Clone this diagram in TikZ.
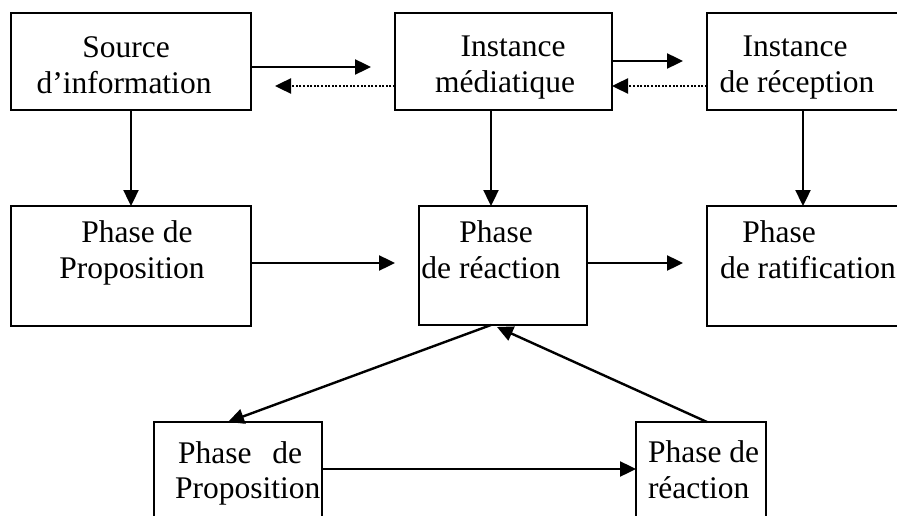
\documentclass[tikz,border=0pt]{standalone}
\usepackage{fontspec}
\setmainfont{Liberation Serif}
\usetikzlibrary{arrows.meta}
\begin{document}
\begin{tikzpicture}[x=1pt,y=-1pt,
  box/.style={draw=black,line width=2.2pt,rectangle,inner sep=0pt,outer sep=0pt},
  lbl/.style={inner sep=0pt,outer sep=0pt,font=\fontsize{31.5}{36}\selectfont},
  arr/.style={line width=2.4pt,-{Triangle[length=16pt,width=15pt]}},
  dotarr/.style={line width=2.4pt,dash pattern=on 2pt off 1.6pt,-{Triangle[length=16pt,width=15pt]}}]
\useasboundingbox (0,0) rectangle (897,516);
\clip (0,0) rectangle (897,516);
% boxes
\node[box,minimum width=240pt,minimum height=97pt] (src) at (131,61.5) {};
\node[box,minimum width=217pt,minimum height=97pt] (med) at (503.5,61.5) {};
\node[box,minimum width=253pt,minimum height=97pt] (rec) at (833.5,61.5) {};
\node[box,minimum width=240pt,minimum height=120pt] (prop) at (131,266) {};
\node[box,minimum width=168pt,minimum height=119pt] (rea) at (503,265.5) {};
\node[box,minimum width=253pt,minimum height=120pt] (rat) at (833.5,266) {};
\node[box,minimum width=168pt,minimum height=138pt] (bl) at (238,491) {};
\node[box,minimum width=130pt,minimum height=138pt] (br) at (701,491) {};
% texts
\node[lbl,anchor=base] (t1a) at (126,58) {Source};
\node[lbl,anchor=base] (t1b) at (124,94) {d’information};
\node[lbl,anchor=base] (t2a) at (513,57) {Instance};
\node[lbl,anchor=base] (t2b) at (505,93) {médiatique};
\node[lbl,anchor=base] (t3a) at (795,57) {Instance};
\node[lbl,anchor=base] (t3b) at (797,93) {de réception};
\node[lbl,anchor=base] (t4a) at (137,242) {Phase de};
\node[lbl,anchor=base] (t4b) at (132,278) {Proposition};
\node[lbl,anchor=base] (t5a) at (496,242) {Phase};
\node[lbl,anchor=base] (t5b) at (491,278) {de réaction};
\node[lbl,anchor=base] (t6a) at (779,242) {Phase};
\node[lbl,anchor=base west] (t6b) at (720,278) {de ratification};
\node[lbl,anchor=base west] (t7a) at (178,463) {Phase\hskip 21pt de};
\node[lbl,anchor=base west] (t7b) at (175,498) {Proposition};
\node[lbl,anchor=base west] (t8a) at (648,462) {Phase de};
\node[lbl,anchor=base west] (t8b) at (648,498) {réaction};
% free ends
\coordinate (e1) at (371,67);
\coordinate (e2) at (275,86);
\coordinate (e3) at (683,61);
\coordinate (e4) at (395,263);
\coordinate (e5) at (683,263);
\coordinate (d1) at (491,325);
\coordinate (d1e) at (228,422);
\coordinate (d2) at (707,422);
\coordinate (d2e) at (497,327);
% connectors
\draw[arr] (src.east |- 0,67) -- (e1);
\draw[dotarr] (med.west |- 0,86) -- (e2);
\draw[arr] (med.east |- 0,61) -- (e3);
\draw[dotarr] (rec.west |- 0,86) -- (med.east |- 0,86);
\draw[arr] (src.south) -- (prop.north);
\draw[arr] (med.south -| 491,0) -- (rea.north -| 491,0);
\draw[arr] (rec.south -| 803,0) -- (rat.north -| 803,0);
\draw[arr] (prop.east |- 0,263) -- (e4);
\draw[arr] (rea.east |- 0,263) -- (e5);
\draw[arr] (d1) -- (d1e);
\draw[arr] (d2) -- (d2e);
\draw[arr] (bl.east |- 0,469) -- (br.west |- 0,469);
\end{tikzpicture}
\end{document}
